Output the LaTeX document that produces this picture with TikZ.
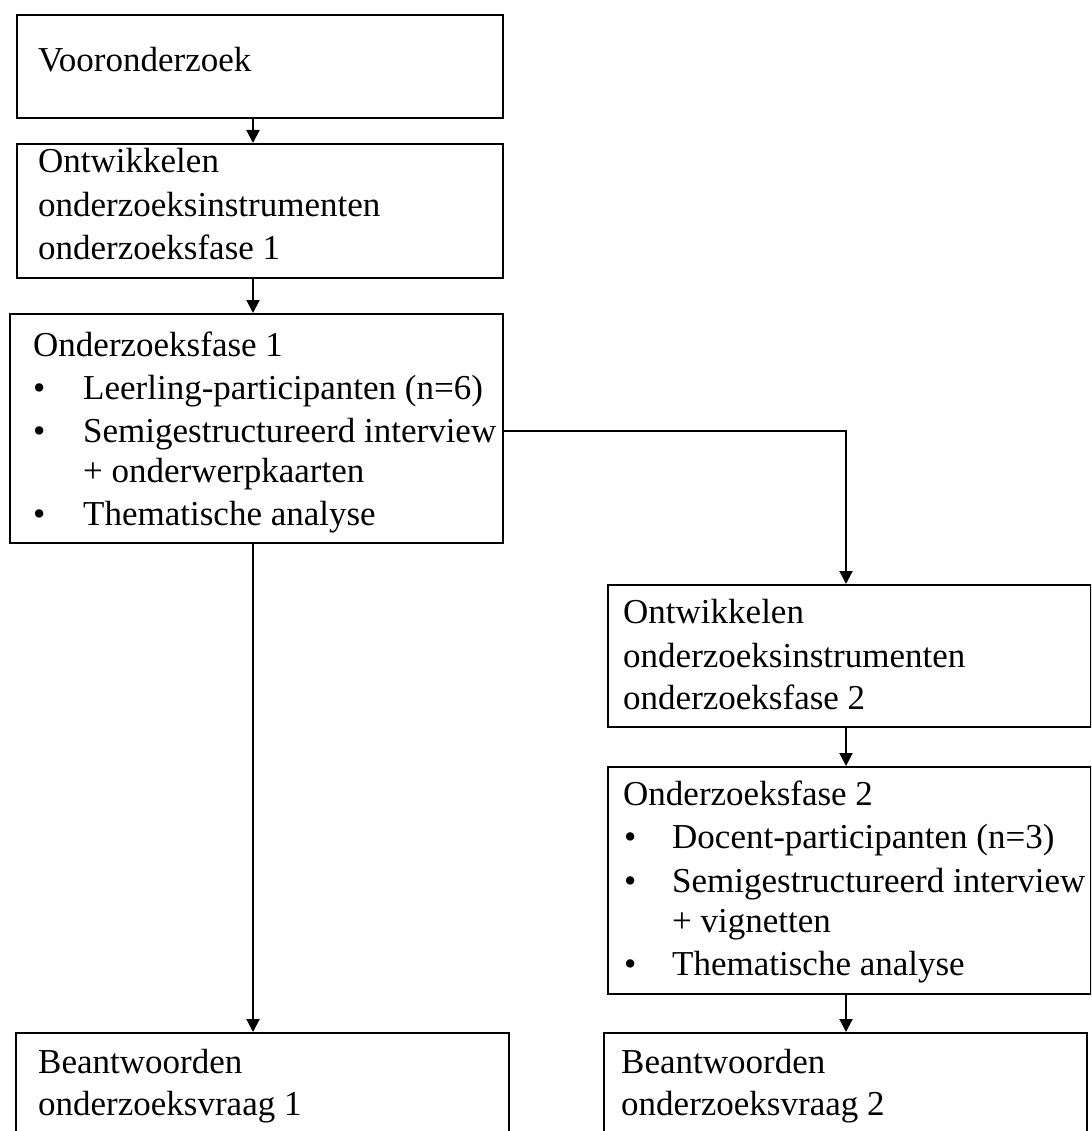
\documentclass[tikz,border=0pt]{standalone}
\usepackage{fontspec}
\setmainfont{Liberation Serif}
\usetikzlibrary{arrows.meta}
\begin{document}
\begin{tikzpicture}[x=1pt,y=-1pt,
  box/.style={draw=black, line width=2pt, rectangle, inner sep=0pt, anchor=north west},
  txt/.style={anchor=base west, inner sep=0pt, font=\fontsize{35}{43}\selectfont},
  conn/.style={draw=black, line width=2pt, -{Triangle[width=13pt,length=13pt]}},
]
\useasboundingbox (0,0) rectangle (1091,1131);
\clip (0,0) rectangle (1091,1131);

% boxes
\node[box, minimum width=486pt, minimum height=103pt] (b1) at (16,14) {};
\node[box, minimum width=486pt, minimum height=134pt] (b2) at (16,143) {};
\node[box, minimum width=493pt, minimum height=229pt] (b3) at (9,313) {};
\node[box, minimum width=483pt, minimum height=142pt] (b4) at (607,584) {};
\node[box, minimum width=483pt, minimum height=227pt] (b5) at (607,766) {};
\node[box, minimum width=493pt, minimum height=120pt] (b6) at (15,1032) {};
\node[box, minimum width=483pt, minimum height=120pt] (b7) at (603,1032) {};

% texts
\node[txt] (t1) at (38,72) {Vooronderzoek};

\node[txt] (t2a) at (38,173) {Ontwikkelen};
\node[txt] (t2b) at (38,217) {onderzoeksinstrumenten};
\node[txt] (t2c) at (38,260) {onderzoeksfase 1};

\node[txt] (t3a) at (33,356) {Onderzoeksfase 1};
\node[txt] (t3b) at (33,399) {•};
\node[txt] (t3c) at (83,399) {Leerling-participanten (n=6)};
\node[txt] (t3d) at (33,442) {•};
\node[txt] (t3e) at (83,442) {Semigestructureerd interview};
\node[txt] (t3f) at (83,482) {+ onderwerpkaarten};
\node[txt] (t3g) at (33,525) {•};
\node[txt] (t3h) at (83,525) {Thematische analyse};

\node[txt] (t4a) at (623,623) {Ontwikkelen};
\node[txt] (t4b) at (623,667) {onderzoeksinstrumenten};
\node[txt] (t4c) at (623,709) {onderzoeksfase 2};

\node[txt] (t5a) at (623,805) {Onderzoeksfase 2};
\node[txt] (t5b) at (624,848) {•};
\node[txt] (t5c) at (672,848) {Docent-participanten (n=3)};
\node[txt] (t5d) at (624,892) {•};
\node[txt] (t5e) at (672,892) {Semigestructureerd interview};
\node[txt] (t5f) at (672,932) {+ vignetten};
\node[txt] (t5g) at (624,975) {•};
\node[txt] (t5h) at (672,975) {Thematische analyse};

\node[txt] (t6a) at (38,1073) {Beantwoorden};
\node[txt] (t6b) at (38,1115) {onderzoeksvraag 1};

\node[txt] (t7a) at (621,1073) {Beantwoorden};
\node[txt] (t7b) at (621,1115) {onderzoeksvraag 2};

% connector columns
\coordinate (colA) at (253,0);
\coordinate (colB) at (846,0);
\coordinate (split) at (0,431);

\draw[conn] (b1.south -| colA) -- (b2.north -| colA);
\draw[conn] (b2.south -| colA) -- (b3.north -| colA);
\draw[conn] (b3.south -| colA) -- (b6.north -| colA);
\draw[conn] (b3.east |- split) -| (b4.north -| colB);
\draw[conn] (b4.south -| colB) -- (b5.north -| colB);
\draw[conn] (b5.south -| colB) -- (b7.north -| colB);
\end{tikzpicture}
\end{document}
